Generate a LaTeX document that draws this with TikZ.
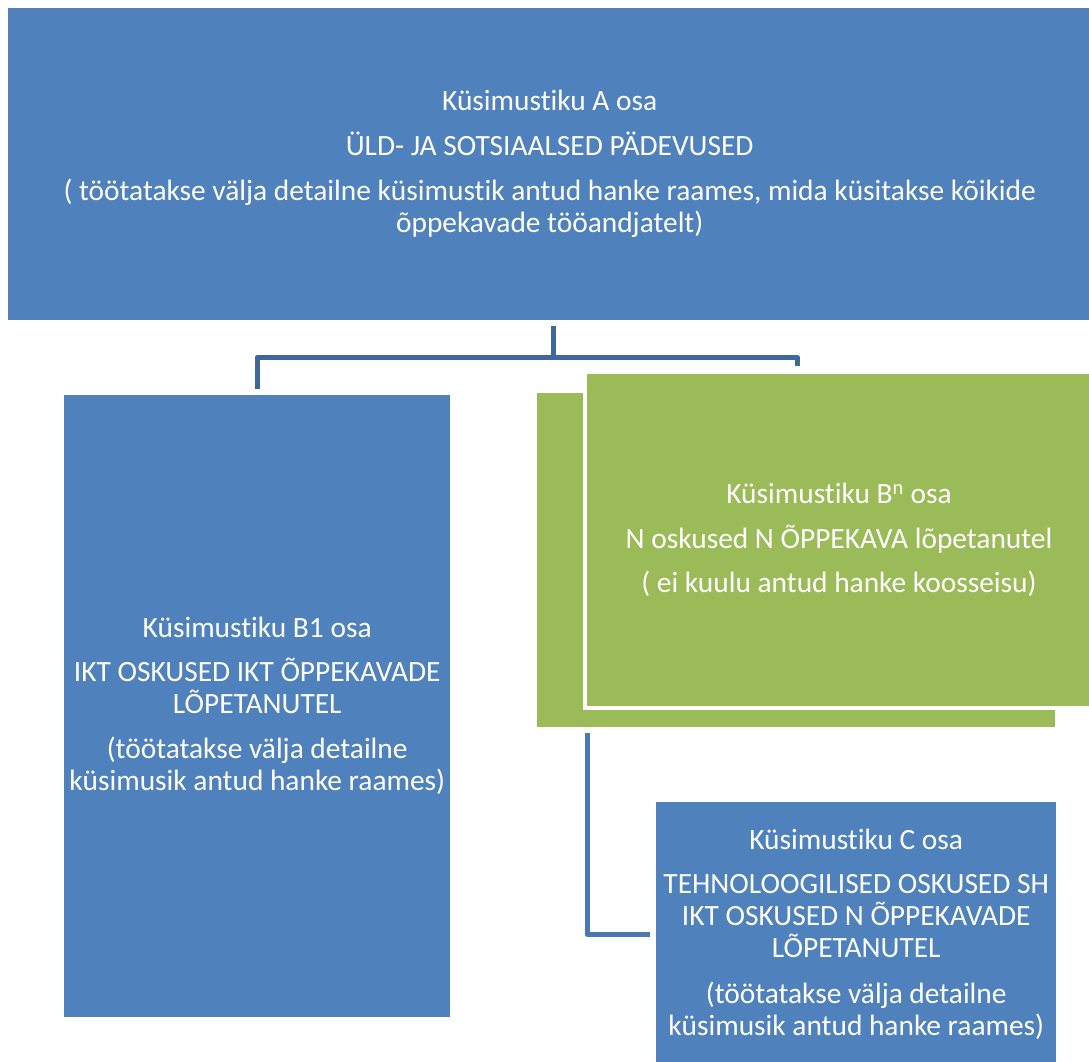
\documentclass[tikz,border=0pt]{standalone}
\usepackage{fontspec}
\setmainfont{Carlito}[Ligatures=NoCommon]
\usetikzlibrary{positioning}
\definecolor{boxblue}{HTML}{4F81BD}
\definecolor{boxgreen}{HTML}{9BBB59}
\definecolor{linkblue}{HTML}{3F6797}
\definecolor{linkblue2}{HTML}{4A78B2}
\tikzset{
    blue-box/.style = {fill=boxblue, text=white, inner sep=0pt, align=center, anchor=north west, font=\fontsize{29.4}{32}\selectfont},
    green-box/.style = {blue-box, fill=boxgreen},
    link/.style = {draw=linkblue, line width=5pt, line join=round},
}
\begin{document}
\begin{tikzpicture}[x=1pt,y=-1pt]
\fill[white] (0,0) rectangle (1089,1062);
\useasboundingbox (0,0) rectangle (1089,1062);

\node[blue-box, minimum width=1083pt, minimum height=312pt] (part-a) at (8,8) {Küsimustiku A osa\\[13pt]
    ÜLD- JA SOTSIAALSED PÄDEVUSED\\[13pt]
    ( töötatakse välja detailne küsimustik antud hanke raames, mida küsitakse kõikide\\
    õppekavade tööandjatelt)};

\node[blue-box, minimum width=386pt, minimum height=622pt] (part-b1) at (64,395) {Küsimustiku B1 osa\\[12pt]
    IKT OSKUSED IKT ÕPPEKAVADE\\
    LÕPETANUTEL\\[13pt]
    (töötatakse välja detailne\\
    küsimusik antud hanke raames)};

\node[green-box, minimum width=518pt, minimum height=334pt] (part-bn-back) at (537,393) {};
\node[green-box, draw=white, line width=4pt, minimum width=508pt, minimum height=336pt] (part-bn) at (583,370) {Küsimustiku B\textsuperscript{n} osa\\[13pt]
    N oskused N ÕPPEKAVA lõpetanutel\\[12pt]
    ( ei kuulu antud hanke koosseisu)};

\node[blue-box, minimum width=400pt, minimum height=264pt] (part-c) at (656,802) {Küsimustiku C osa\\[12pt]
    TEHNOLOOGILISED OSKUSED SH\\
    IKT OSKUSED N ÕPPEKAVADE\\
    LÕPETANUTEL\\[14pt]
    (töötatakse välja detailne\\
    küsimusik antud hanke raames)};

% connectors
\coordinate (fork) at (553,357);
\coordinate (bn-drop) at (797,366);
\draw[link] ([yshift=-6pt]part-a.south -| fork) -- (fork);
\draw[link] ([yshift=6pt]part-b1.north) |- (fork) -| (bn-drop);
\draw[link, draw=linkblue2] ([xshift=50pt,yshift=-6pt]part-bn-back.south west) |- ([xshift=-6pt]part-c.west);
\end{tikzpicture}
\end{document}
